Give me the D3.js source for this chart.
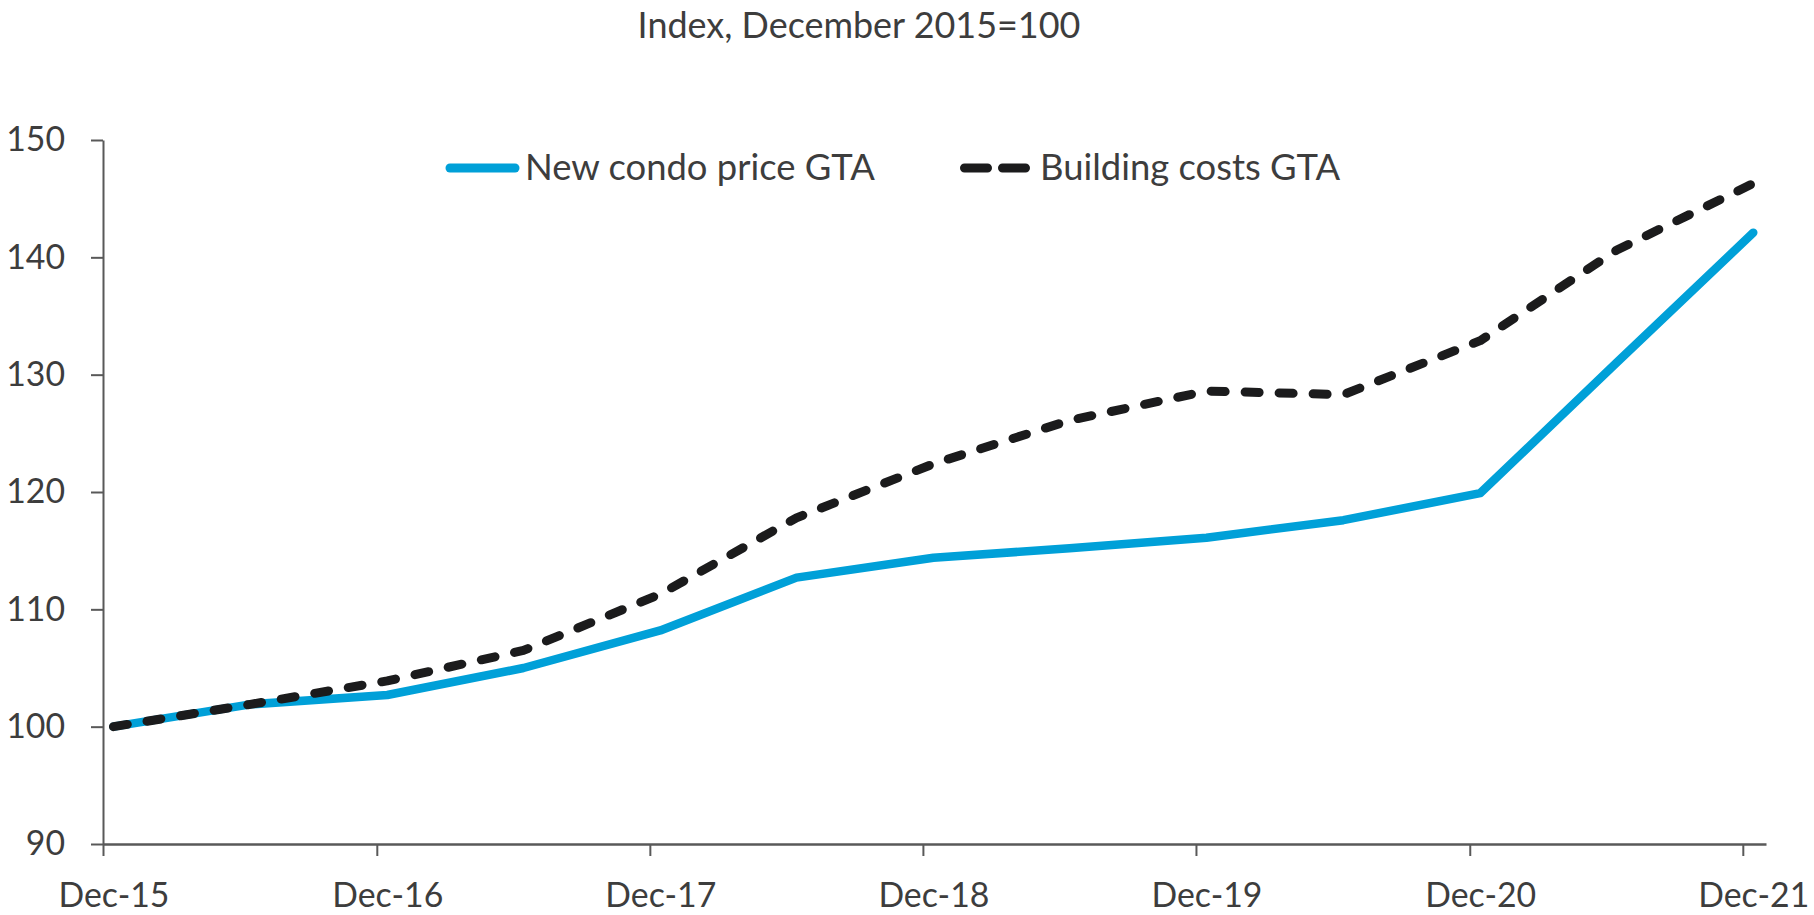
<!DOCTYPE html>
<html>
<head>
<meta charset="utf-8">
<script src="https://cdn.jsdelivr.net/npm/d3@7"></script>
<style>
  body { margin: 0; background: #ffffff; }
  svg text { font-family: Lato, "Open Sans", "DejaVu Sans", sans-serif; fill: #3d3d3d; }
</style>
</head>
<body>
<svg id="chart" width="1814" height="915"></svg>
<script>
// ---------------- data ----------------
const chartTitle = "Index, December 2015=100";
const months = ["2015-12", "2016-06", "2016-12", "2017-06", "2017-12", "2018-06", "2018-12",
                "2019-06", "2019-12", "2020-06", "2020-12", "2021-06", "2021-12"];
const condoPrice    = [100, 101.9, 102.7, 105.0, 108.2, 112.7, 114.4, 115.2, 116.1, 117.6, 119.9, 131.0, 142.1];
const buildingCosts = [100, 101.9, 103.9, 106.5, 111.3, 117.8, 122.4, 126.1, 128.6, 128.3, 132.9, 140.6, 146.3];
const seriesNames = ["New condo price GTA", "Building costs GTA"];
const yTicks = [90, 100, 110, 120, 130, 140, 150];
const xTickMonths = ["2015-12", "2016-12", "2017-12", "2018-12", "2019-12", "2020-12", "2021-12"];
const xTickLabels = ["Dec-15", "Dec-16", "Dec-17", "Dec-18", "Dec-19", "Dec-20", "Dec-21"];

// ---------------- setup ----------------
const svg = d3.select("#chart");
const parseMonth = d3.timeParse("%Y-%m");
const midMonth = s => d3.timeDay.offset(parseMonth(s), 14);

const x = d3.scaleTime()
  .domain([parseMonth("2015-12"), parseMonth("2022-01")])
  .range([103, 1766]);
const y = d3.scaleLinear().domain([90, 150]).range([844, 140]);

const axisColor = "#595959";
const blue = "#00A0D8";
const black = "#1b1b1c";

// ---------------- axes ----------------
const gy = svg.append("g").attr("transform", "translate(103,0)")
  .call(d3.axisLeft(y).tickValues(yTicks).tickSize(12).tickSizeOuter(0).tickPadding(26));
gy.select(".domain").attr("stroke", axisColor).attr("stroke-width", 2);
gy.selectAll(".tick line").attr("stroke", axisColor).attr("stroke-width", 2);
gy.selectAll(".tick text").attr("class", "ticklabel");

const gx = svg.append("g").attr("transform", "translate(0,844)")
  .call(d3.axisBottom(x).tickValues(xTickMonths.map(parseMonth)).tickSize(12).tickSizeOuter(0).tickFormat(""));
gx.select(".domain").attr("stroke", axisColor).attr("stroke-width", 2.5);
gx.selectAll(".tick line").attr("stroke", axisColor).attr("stroke-width", 2);

const gxl = svg.append("g").attr("transform", "translate(0,844)")
  .call(d3.axisBottom(x).tickValues(xTickMonths.map(midMonth)).tickSize(0)
        .tickFormat((d, i) => xTickLabels[i]));
gxl.select(".domain").remove();
gxl.selectAll(".tick text").attr("y", 63).attr("dy", 0).attr("class", "ticklabel");

svg.selectAll("g text").attr("font-family", null);

// ---------------- lines ----------------
const line = d3.line().x(d => x(midMonth(d.m))).y(d => y(d.v));
const condoData = months.map((m, i) => ({ m, v: condoPrice[i] }));
const buildData = months.map((m, i) => ({ m, v: buildingCosts[i] }));

svg.append("path").datum(condoData).attr("d", line)
  .attr("fill", "none").attr("stroke", blue).attr("stroke-width", 8.5)
  .attr("stroke-linecap", "round").attr("stroke-linejoin", "round");
svg.append("path").datum(buildData).attr("d", line)
  .attr("fill", "none").attr("stroke", black).attr("stroke-width", 9)
  .attr("stroke-dasharray", "14,20")
  .attr("stroke-linecap", "round").attr("stroke-linejoin", "round");

// ---------------- legend ----------------
const leg = svg.append("g");
leg.append("line").attr("x1", 450).attr("x2", 515).attr("y1", 168).attr("y2", 168)
  .attr("stroke", blue).attr("stroke-width", 9).attr("stroke-linecap", "round");
const l1 = leg.append("text").attr("x", 525).attr("y", 180).text(seriesNames[0]);
leg.append("line").attr("x1", 964.5).attr("x2", 1025.5).attr("y1", 168).attr("y2", 168)
  .attr("stroke", black).attr("stroke-width", 9).attr("stroke-linecap", "round")
  .attr("stroke-dasharray", "23,15");
const l2 = leg.append("text").attr("x", 1040).attr("y", 180).text(seriesNames[1]);

// ---------------- title ----------------
const t = svg.append("text").attr("x", 859).attr("y", 38).attr("text-anchor", "middle").text(chartTitle);

// ---------------- font fitting ----------------
function fit(sel, refNode, target) {
  sel.style("font-size", "40px");
  const w = refNode.getComputedTextLength();
  const fs = 40 * target / w;
  sel.style("font-size", fs + "px");
}
const tickTexts = svg.selectAll(".ticklabel");
fit(tickTexts, gxl.select(".tick text").node(), 111);
fit(leg.selectAll("text"), l1.node(), 350);
fit(t, t.node(), 443);
</script>
</body>
</html>
